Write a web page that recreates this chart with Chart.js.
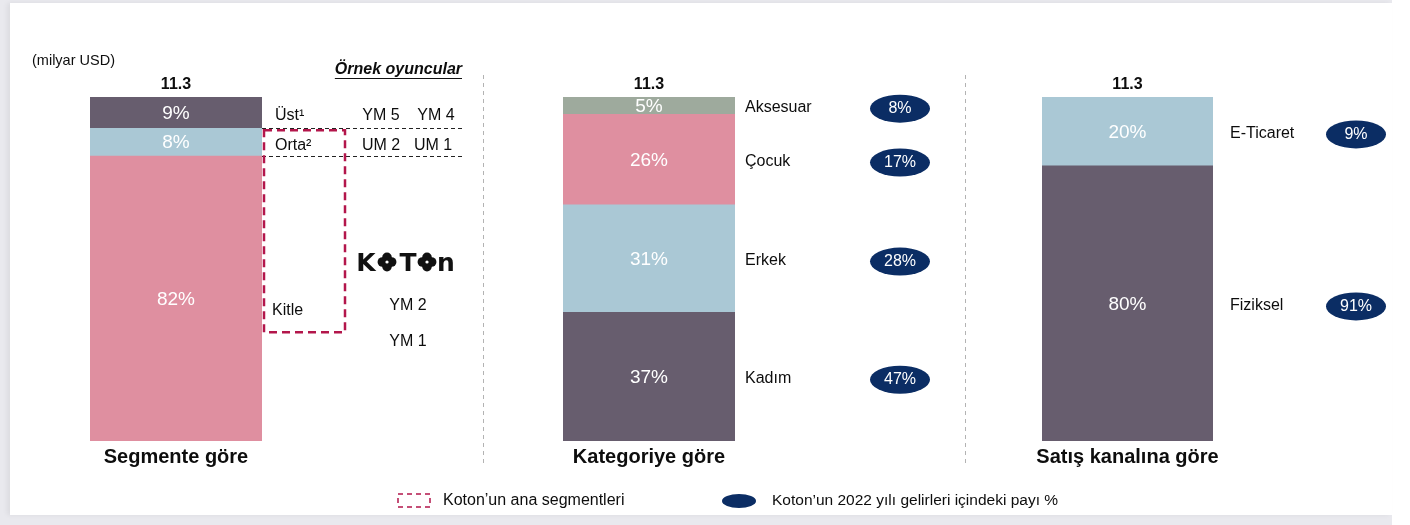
<!DOCTYPE html>
<html>
<head>
<meta charset="utf-8">
<script src="https://cdn.jsdelivr.net/npm/chart.js@4"></script>
<style>
  body { margin: 0; background: #fff; }
  #frame { position: absolute; left: 0; top: 0; width: 1392px; height: 525px; background: #e9e9ee; }
  #card { position: absolute; left: 10px; top: 3px; width: 1382px; height: 512px; background: #fff; box-shadow: -3px 0 5px rgba(0,0,0,0.06); }
  canvas { position: absolute; left: 0; top: 0; }
</style>
</head>
<body>
<div id="frame"><div id="card"></div></div>
<canvas id="c1" width="1410" height="525"></canvas>
<canvas id="c2" width="1410" height="525"></canvas>
<canvas id="c3" width="1410" height="525"></canvas>
<script>
// panel titles and totals (milyar USD)
const panelTitles = ['Segmente göre', 'Kategoriye göre', 'Satış kanalına göre'];
const totals = [11.3, 11.3, 11.3];

// by segment, bottom to top
const segmentNames = ['Kitle', 'Orta²', 'Üst¹'];
const segmentShares = [82, 8, 9];
const upperPlayers = ['YM 5', 'YM 4'];
const midPlayers = ['UM 2', 'UM 1'];
const massPlayers = ['YM 2', 'YM 1'];

// by category, bottom to top
const categoryNames = ['Kadım', 'Erkek', 'Çocuk', 'Aksesuar'];
const categoryShares = [37, 31, 26, 5];
const categoryKoton = [47, 28, 17, 8];

// by sales channel, bottom to top
const channelNames = ['Fiziksel', 'E-Ticaret'];
const channelShares = [80, 20];
const channelKoton = [91, 9];

const PURPLE = '#675d6e';
const BLUE = '#aac8d5';
const PINK = '#df8fa0';
const SAGE = '#9eaa9d';
const NAVY = '#0b2d64';
const CRIMSON = '#b3164b';
const FONT = '"Liberation Sans", Arial, sans-serif';

function seg(chart, i) {
  const el = chart.getDatasetMeta(i).data[0];
  return { x: el.x, top: el.y, bottom: el.base, mid: (el.y + el.base) / 2 };
}

function txt(ctx, s, x, y, size, opts) {
  opts = opts || {};
  ctx.font = (opts.weight || '') + ' ' + size + 'px ' + FONT;
  ctx.fillStyle = opts.color || '#0d0d0d';
  ctx.textAlign = opts.align || 'left';
  ctx.textBaseline = 'middle';
  ctx.fillText(s, x, y);
}

function pill(ctx, x, y, label) {
  ctx.fillStyle = NAVY;
  ctx.beginPath();
  ctx.ellipse(x, y, 30, 14, 0, 0, Math.PI * 2);
  ctx.fill();
  txt(ctx, label, x, y, 16, { color: '#fff', align: 'center' });
}

function flower(ctx, cx, cy, r) {
  ctx.fillStyle = '#111';
  [[0, -1], [1, 0], [0, 1], [-1, 0]].forEach(function (d) {
    ctx.beginPath();
    ctx.arc(cx + d[0] * r, cy + d[1] * r, r * 1.05, 0, Math.PI * 2);
    ctx.fill();
  });
  ctx.fillStyle = '#fff';
  ctx.beginPath();
  ctx.arc(cx, cy, r * 0.35, 0, Math.PI * 2);
  ctx.fill();
}

function barLabels(chart, shares, total, title) {
  const ctx = chart.ctx;
  shares.forEach(function (v, i) {
    const s = seg(chart, i);
    txt(ctx, v + '%', s.x, s.mid + 1, 19, { color: '#fff', align: 'center' });
  });
  const cx = chart.scales.x.getPixelForValue(0);
  txt(ctx, String(total), cx, chart.chartArea.top - 12, 16, { weight: 'bold', align: 'center' });
  txt(ctx, title, cx, 457, 20, { weight: 'bold', align: 'center' });
}

function segmentExtras(chart) {
  const ctx = chart.ctx;
  const right = chart.chartArea.right;
  const kitle = seg(chart, 0), orta = seg(chart, 1), ust = seg(chart, 2);

  txt(ctx, '(milyar USD)', 32, 61, 14.5);
  txt(ctx, 'Örnek oyuncular', 462, 70, 16, { weight: 'italic bold', align: 'right' });
  ctx.font = 'italic bold 16px ' + FONT;
  const w = ctx.measureText('Örnek oyuncular').width;
  ctx.strokeStyle = '#111';
  ctx.lineWidth = 1;
  ctx.beginPath();
  ctx.moveTo(462 - w, 78.5);
  ctx.lineTo(462, 78.5);
  ctx.stroke();

  // boundaries between segments
  ctx.save();
  ctx.setLineDash([4, 3]);
  ctx.strokeStyle = '#222';
  [orta.top, kitle.top].forEach(function (y) {
    ctx.beginPath();
    ctx.moveTo(right, Math.round(y) + 0.5);
    ctx.lineTo(462, Math.round(y) + 0.5);
    ctx.stroke();
  });
  ctx.restore();

  // Koton's main segments box
  ctx.save();
  ctx.setLineDash([8, 5]);
  ctx.strokeStyle = CRIMSON;
  ctx.lineWidth = 2.5;
  ctx.strokeRect(right + 2, orta.top + 2, 81, 202);
  ctx.restore();

  txt(ctx, segmentNames[2], 275, ust.mid + 3, 16);
  txt(ctx, segmentNames[1], 275, orta.mid + 3, 16);
  txt(ctx, segmentNames[0], 272, 311, 16);

  txt(ctx, upperPlayers[0], 381, ust.mid + 3, 16, { align: 'center' });
  txt(ctx, upperPlayers[1], 436, ust.mid + 3, 16, { align: 'center' });
  txt(ctx, midPlayers[0], 381, orta.mid + 3, 16, { align: 'center' });
  txt(ctx, midPlayers[1], 433, orta.mid + 3, 16, { align: 'center' });
  txt(ctx, massPlayers[0], 408, 306, 16, { align: 'center' });
  txt(ctx, massPlayers[1], 408, 342, 16, { align: 'center' });

  // Koton logo
  ctx.save();
  ctx.font = 'bold 25px "DejaVu Sans", sans-serif';
  ctx.fillStyle = '#111';
  ctx.textAlign = 'center';
  ctx.textBaseline = 'alphabetic';
  ctx.fillText('K', 366, 271);
  ctx.fillText('T', 408, 271);
  ctx.fillText('n', 446, 271);
  ctx.restore();
  flower(ctx, 387, 262, 4.6);
  flower(ctx, 427, 262, 4.6);

  // separators
  ctx.save();
  ctx.setLineDash([4, 4]);
  ctx.strokeStyle = '#b3b3b3';
  [483.5, 965.5].forEach(function (x) {
    ctx.beginPath();
    ctx.moveTo(x, 75);
    ctx.lineTo(x, 466);
    ctx.stroke();
  });
  ctx.restore();

  // legend
  ctx.save();
  ctx.setLineDash([5, 4]);
  ctx.strokeStyle = CRIMSON;
  ctx.lineWidth = 1.5;
  ctx.strokeRect(398, 494, 32, 13);
  ctx.restore();
  txt(ctx, 'Koton’un ana segmentleri', 443, 501, 16);
  ctx.fillStyle = NAVY;
  ctx.beginPath();
  ctx.ellipse(739, 501, 17, 7, 0, 0, Math.PI * 2);
  ctx.fill();
  txt(ctx, 'Koton’un 2022 yılı gelirleri içindeki payı %', 772, 501, 15.5);
}

function sideLabels(names, koton, textX, pillX) {
  return function (chart) {
    names.forEach(function (n, i) {
      const s = seg(chart, i);
      txt(chart.ctx, n, textX, s.mid + 2, 16);
      pill(chart.ctx, pillX, s.mid + 3, koton[i] + '%');
    });
  };
}

function makeChart(id, names, shares, colors, idx, left, right, extras) {
  const sum = shares.reduce(function (a, b) { return a + b; }, 0);
  new Chart(document.getElementById(id), {
    type: 'bar',
    data: {
      labels: [panelTitles[idx]],
      datasets: names.map(function (n, i) {
        return {
          label: n,
          data: [shares[i]],
          backgroundColor: colors[i],
          borderWidth: 0,
          barPercentage: 1,
          categoryPercentage: 1
        };
      })
    },
    options: {
      responsive: false,
      animation: false,
      layout: { padding: { left: left, right: 1410 - right, top: 97, bottom: 84 } },
      scales: {
        x: { stacked: true, display: false },
        y: { stacked: true, display: false, min: 0, max: sum }
      },
      plugins: { legend: { display: false }, tooltip: { enabled: false } }
    },
    plugins: [{
      id: 'labels' + idx,
      afterDatasetsDraw: function (chart) {
        barLabels(chart, shares, totals[idx], panelTitles[idx]);
        extras(chart);
      }
    }]
  });
}

makeChart('c1', segmentNames, segmentShares, [PINK, BLUE, PURPLE], 0, 90, 262, segmentExtras);
makeChart('c2', categoryNames, categoryShares, [PURPLE, BLUE, PINK, SAGE], 1, 563, 735,
  sideLabels(categoryNames, categoryKoton, 745, 900));
makeChart('c3', channelNames, channelShares, [PURPLE, BLUE], 2, 1042, 1213,
  sideLabels(channelNames, channelKoton, 1230, 1356));
</script>
</body>
</html>
